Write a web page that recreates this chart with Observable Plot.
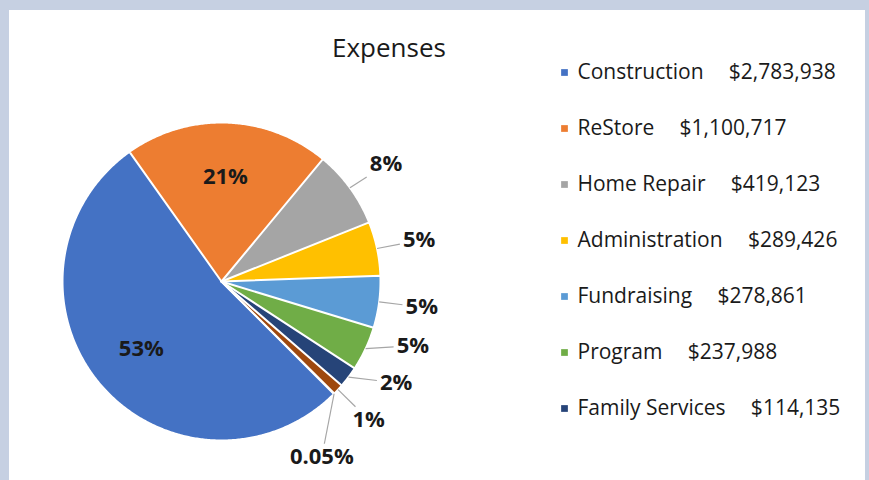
<!DOCTYPE html>
<html><head><meta charset="utf-8">
<script src="https://cdn.jsdelivr.net/npm/d3@7"></script>
<script src="https://cdn.jsdelivr.net/npm/@observablehq/plot@0.6"></script>
<style>
body{margin:0;background:#c6d0e2;}
#frame{position:relative;width:869px;height:480px;background:#c6d0e2;overflow:hidden;font-family:"Open Sans",sans-serif;}
#panel{position:absolute;left:9px;top:10px;width:856px;height:470px;background:#fff;}
#title{position:absolute;left:289px;width:200px;top:29px;text-align:center;font-size:26px;color:#1a1a1a;line-height:36px;white-space:nowrap;}
#pie,#legend{position:absolute;top:0;}
#pie{left:0}
#legend{left:540px}
svg{overflow:visible}
</style></head><body>
<div id="frame"><div id="panel"></div><div id="title">Expenses</div><div id="pie"></div><div id="legend"></div></div>
<script>
// ---- data ----
const categories = ["Construction","ReStore","Home Repair","Administration","Fundraising","Program","Family Services","Other","Miscellaneous"];
const amounts = [2783938,1100717,419123,289426,278861,237988,114135,58000,2600];
const colors = ["#4472c4","#ed7d31","#a5a5a5","#ffc000","#5b9bd5","#70ad47","#264478","#9e480e","#636363"];
const legendCount = 7;

// ---- layout ----
const W = 540, H = 480, cx = 221, cy = 281, rpx = 159;
const startDeg = 135;
const textColor = "#1a1a1a";

const data = categories.map((name, i) => ({name, amount: amounts[i]}));
const total = d3.sum(amounts);
const a0 = startDeg * Math.PI / 180;
const arcs = d3.pie().value(d => d.amount).sort(null).startAngle(a0).endAngle(a0 + 2 * Math.PI)(data);

// slice polygons (unit circle, y up)
const polyPts = arcs.flatMap(a => {
  const n = Math.max(2, Math.ceil((a.endAngle - a.startAngle) / (Math.PI / 360)));
  const pts = [{name: a.data.name, x: 0, y: 0}];
  for (let k = 0; k <= n; k++) {
    const t = a.startAngle + (a.endAngle - a.startAngle) * k / n;
    pts.push({name: a.data.name, x: Math.sin(t), y: Math.cos(t)});
  }
  return pts;
});

const fmtPct = p => (p * 100 < 0.5 ? (p * 100).toFixed(2) : Math.round(p * 100)) + "%";
const labelFont = 22;
const textWidth = s => [...s].reduce((w, c) => w + (c === "%" ? 0.91 : c === "." ? 0.29 : 0.572), 0) * labelFont;

const labels = arcs.map(a => {
  const p = a.value / total, mid = (a.startAngle + a.endAngle) / 2;
  return {name: a.data.name, p, mid, text: fmtPct(p), inside: p > 0.15};
});
labels.filter(d => d.inside).forEach(d => { d.x = 0.66 * Math.sin(d.mid); d.y = 0.66 * Math.cos(d.mid); });

// outside labels: spread vertically (pixel units, y down), then place on an ellipse
const outside = labels.filter(d => !d.inside);
const R = 1.25 * rpx, Rx = 1.27 * rpx, gap = 37;
outside.forEach(d => { d.v0 = -Math.cos(d.mid) * R; });
outside.sort((a, b) => a.v0 - b.v0);
let clusters = [];
for (const it of outside) {
  clusters.push({items: [it]});
  const start = c => d3.mean(c.items, (d, i) => d.v0 - i * gap);
  while (clusters.length > 1) {
    const c = clusters[clusters.length - 1], p = clusters[clusters.length - 2];
    if (start(c) - (start(p) + (p.items.length - 1) * gap) >= gap) break;
    clusters.splice(clusters.length - 2, 2, {items: p.items.concat(c.items)});
  }
}
for (const c of clusters) {
  const s = d3.mean(c.items, (d, i) => d.v0 - i * gap);
  c.items.forEach((d, i) => { d.v = s + i * gap; });
}
const links = [];
for (const d of outside) {
  const side = Math.sin(d.mid) >= 0 ? 1 : -1;
  const hx = side * Math.sqrt(Math.max(0, Rx * Rx - d.v * d.v));
  d.x = hx / rpx; d.y = -d.v / rpx;
  // leader line: from slice edge to label box edge
  const ax = Math.sin(d.mid) * rpx, ay = -Math.cos(d.mid) * rpx; // pixel, y down
  const dx = ax - hx, dy = ay - d.v;
  const bw = textWidth(d.text) / 2 + 3, bh = 13;
  const t = Math.min(Math.abs(dx) > 1e-6 ? bw / Math.abs(dx) : Infinity, Math.abs(dy) > 1e-6 ? bh / Math.abs(dy) : Infinity);
  links.push({x1: ax / rpx, y1: -ay / rpx, x2: (hx + t * dx) / rpx, y2: -(d.v + t * dy) / rpx});
}

const pie = Plot.plot({
  width: W, height: H,
  marginTop: 0, marginRight: 0, marginBottom: 0, marginLeft: 0,
  x: {domain: [-cx / rpx, (W - cx) / rpx], axis: null},
  y: {domain: [-(H - cy) / rpx, cy / rpx], axis: null},
  color: {domain: categories, range: colors},
  style: {fontFamily: "'Open Sans', sans-serif", background: "transparent"},
  marks: [
    Plot.line(polyPts, {x: "x", y: "y", z: "name", fill: "name", stroke: "white", strokeWidth: 2, strokeLinejoin: "round"}),
    Plot.link(links, {x1: "x1", y1: "y1", x2: "x2", y2: "y2", stroke: "#a6a6a6", strokeWidth: 1.2}),
    Plot.text(labels, {x: "x", y: "y", text: "text", fontSize: labelFont, fontWeight: "bold", fill: textColor})
  ]
});
document.getElementById("pie").appendChild(pie);

const money = v => "$" + d3.format(",")(v);
const legendData = data.slice(0, legendCount).map(d => ({...d, label: d.name + "    \u2009" + money(d.amount)}));
const legend = Plot.plot({
  width: 329, height: H,
  marginTop: 72, marginBottom: 72, marginLeft: 24, marginRight: 0,
  y: {type: "point", domain: legendData.map(d => d.name), axis: null, padding: 0},
  color: {domain: categories, range: colors},
  style: {fontFamily: "'Open Sans', sans-serif", background: "transparent"},
  marks: [
    Plot.dot(legendData, {y: "name", frameAnchor: "left", symbol: "square", r: 3.8, fill: "name", stroke: null}),
    Plot.text(legendData, {y: "name", frameAnchor: "left", text: "label", textAnchor: "start", dx: 13, fontSize: 21, fill: textColor})
  ]
});
legend.querySelectorAll("text").forEach(t => t.style.whiteSpace = "pre");
document.getElementById("legend").appendChild(legend);
</script>
</body></html>
